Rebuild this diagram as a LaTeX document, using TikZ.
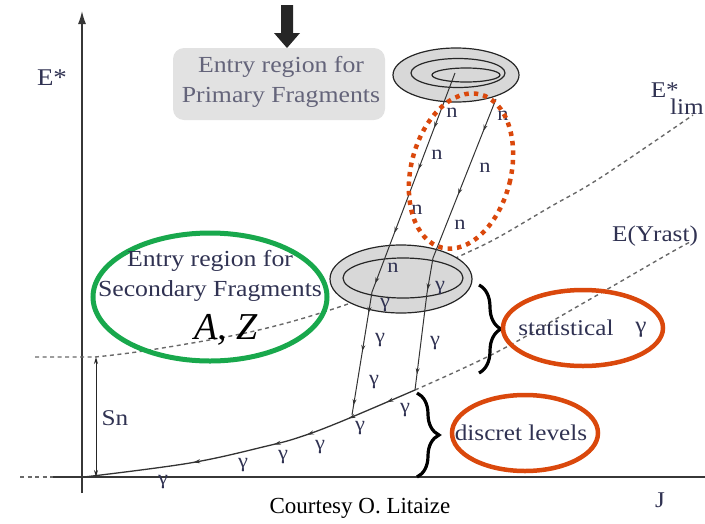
\documentclass[tikz,border=0pt]{standalone}
\usepackage{fontspec}
\setmainfont{Liberation Serif}
\newfontfamily\stretchfont[FakeStretch=1.12]{Liberation Serif}
\usetikzlibrary{arrows.meta,decorations.markings,decorations.pathreplacing,shapes.geometric}
\definecolor{labc}{RGB}{48,50,82}
\definecolor{boxtext}{RGB}{100,100,122}
\definecolor{boxgray}{RGB}{226,226,226}
\definecolor{nucgray}{RGB}{216,216,216}
\definecolor{redo}{RGB}{218,72,12}
\definecolor{greenc}{RGB}{24,168,76}
\definecolor{dashg}{RGB}{105,105,105}
\definecolor{axisc}{RGB}{55,55,55}
\tikzset{
  lbl/.style={text=labc, font=\stretchfont\fontsize{22.5}{29}\selectfont, inner sep=0pt},
  small/.style={text=labc, font=\stretchfont\fontsize{20}{24}\selectfont, inner sep=0pt},
  nuc/.style={draw=black!85, fill=nucgray, ellipse, line width=1.2pt, inner sep=0pt},
  nucin/.style={draw=black!85, ellipse, line width=1.2pt, inner sep=0pt},
  dashcurve/.style={draw=dashg, line width=1.4pt, dash pattern=on 4pt off 3.5pt},
  trans/.style={draw=black!80, line width=1pt},
  redring/.style={draw=redo, line width=4.5pt, ellipse, inner sep=0pt},
  bracestyle/.style={draw=black, line width=3.2pt, decorate}
}
\begin{document}
\begin{tikzpicture}[x=1pt,y=-1pt]
\useasboundingbox (0,0) rectangle (705,523);

% axes
\coordinate (yb) at (82,493);
\coordinate (yt) at (82,11);
\coordinate (xl) at (53,477);
\coordinate (xr) at (705,477);
\coordinate (xd) at (20,477);
\draw[axisc, line width=1.3pt, -{Latex[length=13pt,width=8pt]}] (yb) -- (yt);
\draw[axisc, line width=1.3pt] (xl) -- (xr);
\draw[dashcurve] (xd) -- (xl);
\node[lbl, font=\stretchfont\fontsize{24}{29}\selectfont] (estar) at (52,78) {E*};
\node[lbl] (jlab) at (660,500) {J};

% E*lim curve
\draw[dashcurve] (35,357) -- (95,357) plot[smooth, tension=0.6] coordinates {(95,357) (150,350) (250,332) (330,310) (400,284) (460,256) (497,238) (550,207) (600,178) (693,115)};
\node[lbl, anchor=east] (elim) at (679,90) {E*};
\node[lbl, anchor=east] (elimsub) at (704,107) {lim};

% Yrast curve
\coordinate (orig) at (84,477);
\coordinate (yrR) at (415,390);
\coordinate (yrL) at (352,415);
\draw[trans, line width=1.3pt, postaction={decorate}, decoration={markings,
   mark=at position 0.32 with {\arrowreversed{Stealth[open,length=7pt,width=4pt]}},
   mark=at position 0.56 with {\arrowreversed{Stealth[open,length=7pt,width=4pt]}},
   mark=at position 0.66 with {\arrowreversed{Stealth[open,length=7pt,width=4pt]}},
   mark=at position 0.79 with {\arrowreversed{Stealth[open,length=7pt,width=4pt]}},
   mark=at position 0.91 with {\arrowreversed{Stealth[open,length=7pt,width=4pt]}}}]
   plot[smooth, tension=0.6] coordinates {(orig) (190,463) (267,446) (300,437) (340,422) (yrR)};
\draw[dashcurve] plot[smooth, tension=0.6] coordinates {(yrR) (497,352) (580,305) (663,257) (690,242)};
\node[lbl] (yrast) at (655,236) {E(Y\kern-1pt rast)};

% Sn
\coordinate (snT) at (96,357);
\coordinate (snB) at (96,477);
\draw[black!85, line width=1pt, {Stealth[length=7pt,width=4pt]}-{Stealth[length=7pt,width=4pt]}] (snT) -- (snB);
\node[lbl] (sn) at (115,418) {Sn};

% primary entry box and arrow
\fill[black!85] (281,5) -- (293,5) -- (293,33) -- (300,33) -- (287,48) -- (274,33) -- (281,33) -- cycle;
\node[fill=boxgray, rounded corners=11pt, minimum width=212pt, minimum height=72pt, inner sep=0pt] (pbox) at (279,84) {};
\node[text=boxtext, font=\stretchfont\fontsize{23}{30}\selectfont, align=center, inner sep=0pt] (ptext) at (281,82) {Entry region for\\Primary Fragments};

% primary nucleus
\node[nuc, minimum width=126pt, minimum height=54pt] (pout) at (456,75) {};
\node[nucin, minimum width=94pt, minimum height=29pt] (pmid) at (458,73) {};
\node[nucin, minimum width=68pt, minimum height=14pt] (pin) at (466,75) {};

% secondary nucleus
\node[nuc, minimum width=142pt, minimum height=68pt] (sout) at (401,279) {};
\node[nucin, minimum width=120pt, minimum height=40pt] (sin) at (403,278) {};

% transition lines
\coordinate (pA) at (455,73);
\coordinate (pB) at (496,99);
\coordinate (sA) at (372,292);
\coordinate (sB) at (433,258);
\coordinate (sB2) at (427,293);
\draw[trans, postaction={decorate}, decoration={markings,
   mark=at position 0.25 with {\arrow{Stealth[length=6pt,width=4pt]}},
   mark=at position 0.44 with {\arrow{Stealth[length=6pt,width=4pt]}},
   mark=at position 0.73 with {\arrow{Stealth[length=6pt,width=4pt]}},
   mark=at position 0.96 with {\arrow{Stealth[length=6pt,width=4pt]}}}] (pA) -- (sA);
\draw[trans, postaction={decorate}, decoration={markings,
   mark=at position 0.2 with {\arrow{Stealth[length=6pt,width=4pt]}},
   mark=at position 0.6 with {\arrow{Stealth[length=6pt,width=4pt]}}}] (pB) -- (sB);
\draw[trans, postaction={decorate}, decoration={markings,
   mark=at position 0.17 with {\arrow{Stealth[length=6pt,width=4pt]}},
   mark=at position 0.48 with {\arrow{Stealth[length=6pt,width=4pt]}},
   mark=at position 0.92 with {\arrow{Stealth[length=6pt,width=4pt]}}}] (sA) -- (yrL);
\draw[trans, postaction={decorate}, decoration={markings,
   mark=at position 0.24 with {\arrow{Stealth[length=6pt,width=4pt]}},
   mark=at position 0.88 with {\arrow{Stealth[length=6pt,width=4pt]}}}] (sB) -- (sB2) -- (yrR);

% n labels
\node[small] (n1) at (452,113) {n};
\node[small] (n2) at (503,116) {n};
\node[small] (n3) at (437,155) {n};
\node[small] (n4) at (485,168) {n};
\node[small] (n5) at (417,210) {n};
\node[small] (n6) at (460,225) {n};
\node[small] (n7) at (393,268) {n};

% gamma labels
\node[small] (g1) at (440,288) {γ};
\node[small] (g2) at (385,305) {γ};
\node[small] (g3) at (380,340) {γ};
\node[small] (g4) at (435,343) {γ};
\node[small] (g5) at (374,382) {γ};
\node[small] (g6) at (405,410) {γ};
\node[small] (g7) at (360,428) {γ};
\node[small] (g8) at (320,447) {γ};
\node[small] (g9) at (283,457) {γ};
\node[small] (g10) at (243,465) {γ};
\node[small] (g11) at (163,482) {γ};

% red dotted ellipse
\node[draw=redo, line width=4.5pt, dash pattern=on 4.5pt off 5pt, ellipse, inner sep=0pt, minimum width=100pt, minimum height=158pt, rotate=-14] (reddot) at (461,171) {};

% green ellipse (secondary entry region)
\node[draw=greenc, line width=5pt, ellipse, inner sep=0pt, minimum width=234pt, minimum height=128pt] (green) at (210,297) {};
\node[lbl, font=\stretchfont\fontsize{23}{30}\selectfont, align=center] (stext) at (210,276) {Entry region for\\Secondary Fragments};
\node[font=\fontsize{38}{40}\selectfont\itshape, inner sep=0pt] (az) at (226,330) {A, Z};

% braces
\coordinate (b1t) at (479,285);
\coordinate (b1b) at (479,373);
\coordinate (b2t) at (417,393);
\coordinate (b2b) at (417,477);
\draw[bracestyle, decoration={brace, amplitude=22pt}] (b1t) -- (b1b);
\draw[bracestyle, decoration={brace, amplitude=22pt}] (b2t) -- (b2b);

% statistical / discret
\node[redring, minimum width=160pt, minimum height=76pt] (statring) at (583,328) {};
\node[lbl] (stat) at (566,328) {statistical};
\node[lbl] (statg) at (641,330) {γ};
\node[redring, minimum width=146pt, minimum height=76pt] (discring) at (525,433) {};
\node[lbl] (disc) at (521,433) {discret levels};

% courtesy
\node[font=\fontsize{23}{26}\selectfont, inner sep=0pt] (court) at (360,508) {Courtesy O. Litaize};
\end{tikzpicture}
\end{document}
